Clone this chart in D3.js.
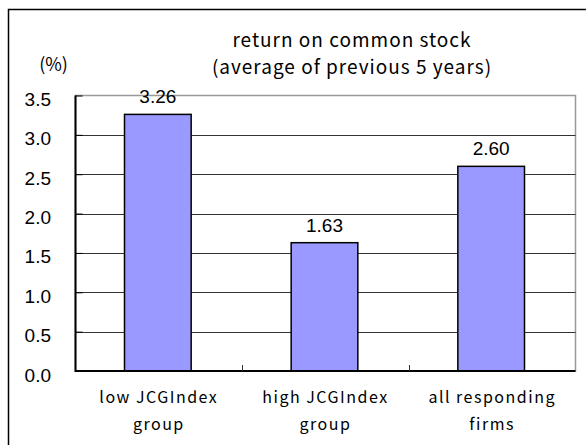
<!DOCTYPE html>
<html>
<head>
<meta charset="utf-8">
<script src="https://cdn.jsdelivr.net/npm/d3@7"></script>
<style>
  html, body { margin: 0; padding: 0; background: #fff; }
  svg { display: block; }
</style>
</head>
<body>
<svg id="chart" width="586" height="445"></svg>
<script>
// Data
const categories = ["low JCGIndex group", "high JCGIndex group", "all responding firms"];
const catLines = [["low JCGIndex", "group"], ["high JCGIndex", "group"], ["all responding", "firms"]];
const values = [3.26, 1.63, 2.60];
const yTicks = [0, 0.5, 1.0, 1.5, 2.0, 2.5, 3.0, 3.5];
const titleLines = ["return on common stock", "(average of previous 5 years)"];
const unitLabel = "(%)";

// Setup
const svg = d3.select("#chart");
const GOTHIC = "'Noto Sans CJK JP', 'DejaVu Sans', sans-serif";
const ARIAL = "'Liberation Sans', Arial, sans-serif";
const PLOT = { left: 75.5, top: 95.5, right: 575.5, bottom: 371 };

// outer frame (runs past the picture edge)
svg.append("rect")
  .attr("x", 8.5).attr("y", 9.5)
  .attr("width", 620).attr("height", 480)
  .attr("fill", "#fff")
  .attr("stroke", "#000").attr("stroke-width", 1.5);

const x = d3.scaleBand().domain(categories).range([PLOT.left, PLOT.right]).padding(0);
const y = d3.scaleLinear().domain([0, 3.5]).range([PLOT.bottom, PLOT.top]);

// plot border (gray top/right)
svg.append("rect")
  .attr("x", PLOT.left).attr("y", PLOT.top)
  .attr("width", PLOT.right - PLOT.left).attr("height", PLOT.bottom - PLOT.top)
  .attr("fill", "#fff").attr("stroke", "#999").attr("stroke-width", 1.5);

// gridlines
svg.append("g").selectAll("line")
  .data(yTicks.filter(d => d > 0 && d < 3.5)).join("line")
  .attr("x1", PLOT.left).attr("x2", PLOT.right)
  .attr("y1", d => Math.round(y(d)) + 0.5).attr("y2", d => Math.round(y(d)) + 0.5)
  .attr("stroke", "#333").attr("stroke-width", 1);

// y axis
svg.append("g")
  .attr("transform", `translate(${PLOT.left},0)`)
  .call(d3.axisRight(y).tickValues(yTicks).tickSize(7).tickFormat(() => ""))
  .call(g => g.select(".domain").remove())
  .call(g => g.selectAll("line").attr("stroke", "#000"));
svg.append("line")
  .attr("x1", PLOT.left).attr("x2", PLOT.left)
  .attr("y1", PLOT.top).attr("y2", PLOT.bottom + 1)
  .attr("stroke", "#000").attr("stroke-width", 2);

svg.append("g").selectAll("text")
  .data(yTicks).join("text")
  .attr("x", 51).attr("y", d => y(d) + 10.5)
  .attr("text-anchor", "end")
  .attr("font-family", ARIAL).attr("font-size", "19px").attr("fill", "#000")
  .text(d3.format(".1f"));

svg.append("text")
  .attr("x", 53.5).attr("y", 71)
  .attr("text-anchor", "middle")
  .attr("font-family", GOTHIC).attr("font-size", "18px")
  .text(unitLabel);

// bars
const barW = x.bandwidth() * 0.4;
svg.append("g").selectAll("rect")
  .data(values).join("rect")
  .attr("x", (d, i) => x(categories[i]) + (x.bandwidth() - barW) / 2 - 1)
  .attr("y", d => y(d))
  .attr("width", barW)
  .attr("height", d => y(0) - y(d))
  .attr("fill", "#9999ff")
  .attr("stroke", "#000").attr("stroke-width", 1.5);

// value labels
svg.append("g").selectAll("text")
  .data(values).join("text")
  .attr("x", (d, i) => x(categories[i]) + x.bandwidth() / 2 - 1)
  .attr("y", d => y(d) - 11)
  .attr("text-anchor", "middle")
  .attr("font-family", ARIAL).attr("font-size", "19px")
  .text(d => d.toFixed(2));

// x axis
svg.append("line")
  .attr("x1", PLOT.left).attr("x2", PLOT.right)
  .attr("y1", PLOT.bottom).attr("y2", PLOT.bottom)
  .attr("stroke", "#000").attr("stroke-width", 2);
svg.append("g").selectAll("line")
  .data(categories.slice(1)).join("line")
  .attr("x1", d => Math.round(x(d)) + 0.5).attr("x2", d => Math.round(x(d)) + 0.5)
  .attr("y1", PLOT.bottom).attr("y2", PLOT.bottom - 6)
  .attr("stroke", "#333");

const catG = svg.append("g").selectAll("text")
  .data(catLines).join("text")
  .attr("font-family", GOTHIC).attr("font-size", "16px")
  .attr("letter-spacing", "1.5px")
  .attr("text-anchor", "middle");
catG.selectAll("tspan")
  .data((d, i) => d.map(t => ({ t, i }))).join("tspan")
  .attr("x", d => x(categories[d.i]) + x.bandwidth() / 2)
  .attr("y", (d, j) => 403 + j * 27)
  .text(d => d.t);

// title
svg.append("g").selectAll("text")
  .data(titleLines).join("text")
  .attr("x", 352).attr("y", (d, i) => 47 + i * 27)
  .attr("text-anchor", "middle")
  .attr("font-family", GOTHIC).attr("font-size", "19px")
  .attr("letter-spacing", "1px")
  .text(d => d);
</script>
</body>
</html>
